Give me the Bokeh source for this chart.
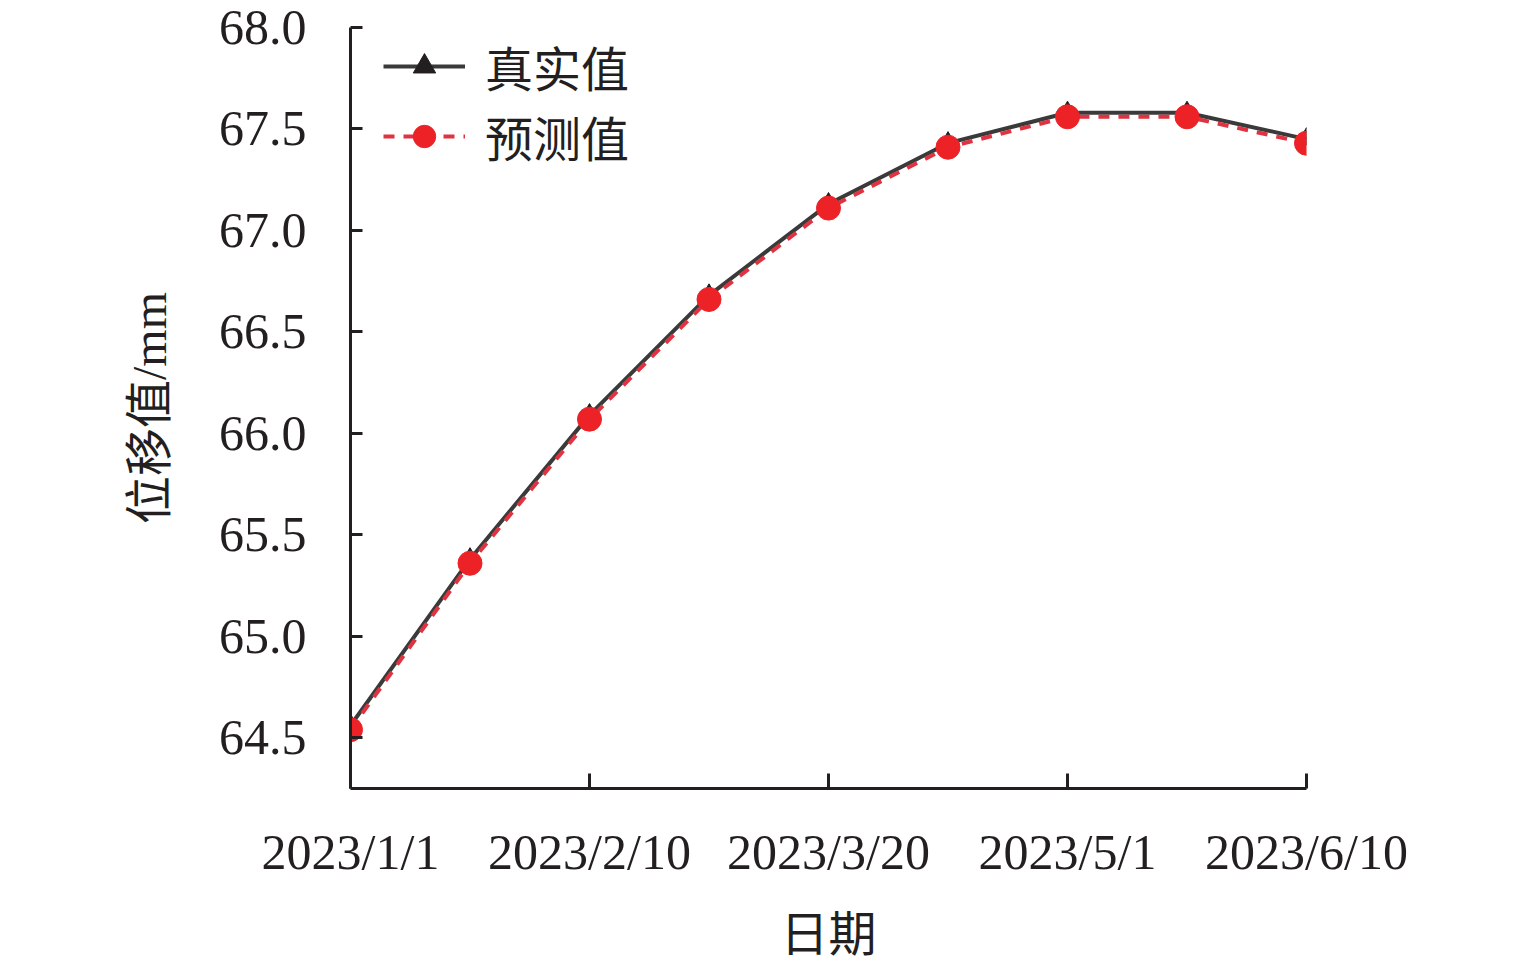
from bokeh.plotting import figure
from bokeh.models import FixedTicker, Legend, LegendItem, Range1d, NumeralTickFormatter
from bokeh.embed import file_html
from bokeh.resources import INLINE

# ---- data ----
sample_index = [0, 1, 2, 3, 4, 5, 6, 7, 8]
true_values = [64.56, 65.38, 66.09, 66.68, 67.13, 67.43, 67.58, 67.58, 67.45]
pred_values = [64.54, 65.36, 66.07, 66.66, 67.11, 67.41, 67.56, 67.56, 67.43]
tick_positions = [0, 2, 4, 6, 8]
tick_labels = ["2023/1/1", "2023/2/10", "2023/3/20", "2023/5/1", "2023/6/10"]
y_ticks = [64.5, 65.0, 65.5, 66.0, 66.5, 67.0, 67.5, 68.0]

SERIF = "Liberation Serif, Noto Sans CJK SC"
AX = "#231f20"

p = figure(width=1527, height=964, output_backend="svg", toolbar_location=None,
           x_range=Range1d(0, 8), y_range=Range1d(64.25, 68.0),
           min_border_left=350, min_border_right=221, min_border_top=27, min_border_bottom=176)
p.outline_line_color = None
p.xgrid.visible = False
p.ygrid.visible = False

l1 = p.line(sample_index, true_values, line_color="#3a3a3a", line_width=4)
m1 = p.scatter(sample_index, true_values, marker="triangle", size=20,
               fill_color="#231f20", line_color="#231f20")
l2 = p.line(sample_index, pred_values, line_color="#e03341", line_width=4, line_dash="11 9")
m2 = p.scatter(sample_index, pred_values, marker="circle", size=24,
               fill_color="#ec2227", line_color="#ec2227")

for ax in (p.xaxis[0], p.yaxis[0]):
    ax.axis_line_color = AX
    ax.axis_line_width = 3
    ax.major_tick_line_color = AX
    ax.major_tick_line_width = 3
    ax.minor_tick_line_color = None
    ax.major_tick_out = 0
    ax.major_label_text_font = SERIF
    ax.major_label_text_font_size = "50px"
    ax.major_label_text_color = AX
    ax.axis_label_text_font = SERIF
    ax.axis_label_text_font_size = "48px"
    ax.axis_label_text_font_style = "normal"
    ax.axis_label_text_color = AX

p.xaxis.ticker = FixedTicker(ticks=tick_positions)
p.xaxis.major_label_overrides = {t: s for t, s in zip(tick_positions, tick_labels)}
p.xaxis.major_tick_in = 15
p.xaxis.major_label_standoff = 35
p.xaxis.axis_label = "日期"
p.xaxis.axis_label_standoff = 25

p.yaxis.ticker = FixedTicker(ticks=y_ticks)
p.yaxis.formatter = NumeralTickFormatter(format="0.0")
p.yaxis.major_tick_in = 12
p.yaxis.major_label_standoff = 44
p.yaxis.axis_label = "位移值/mm"
p.yaxis.axis_label_standoff = 40

legend = Legend(items=[LegendItem(label="真实值", renderers=[l1, m1]),
                       LegendItem(label="预测值", renderers=[l2, m2])],
                location=(33, 617), orientation="vertical")
legend.border_line_color = None
legend.background_fill_alpha = 0
legend.glyph_width = 82
legend.glyph_height = 56
legend.label_text_font = SERIF
legend.label_text_font_size = "48px"
legend.label_text_color = AX
legend.label_standoff = 20
legend.spacing = -6
legend.padding = 0
legend.margin = 0
p.add_layout(legend)

open("out.html", "w").write(file_html(p, INLINE))
